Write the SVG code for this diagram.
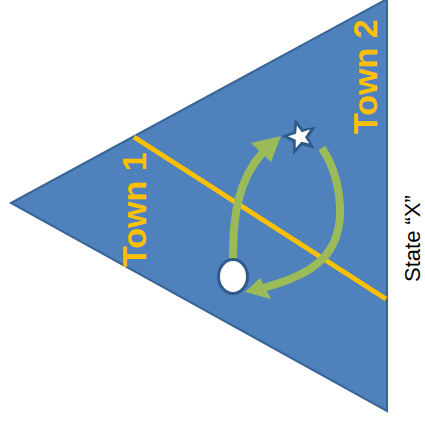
<svg xmlns="http://www.w3.org/2000/svg" width="425" height="421" viewBox="0 0 425 421">
<style>
.town{font-family:"Liberation Sans",Arial,sans-serif;font-weight:bold;font-size:34px;fill:#FFC000}
.state{font-family:"Liberation Sans",Arial,sans-serif;font-size:22px;fill:#000}
.arc{fill:none;stroke:#9BBB59;stroke-width:8;stroke-linecap:butt}
.head{fill:#9BBB59}
</style>
<rect width="425" height="421" fill="#fff"/>
<g id="state">
<polygon points="11,203 387,-1 387,411" fill="#4F81BD" stroke="#3A6597" stroke-width="2"/>
</g>
<g id="border">
<line x1="134" y1="137" x2="386" y2="299" stroke="#FFC000" stroke-width="5"/>
</g>
<g id="town1"><text class="town" transform="translate(146,267) rotate(-90)">Town 1</text></g>
<g id="town2"><text class="town" transform="translate(377,134) rotate(-90)">Town 2</text></g>
<g id="label"><text class="state" transform="translate(420,282) rotate(-90)">State “X”</text></g>
<g id="connectors">
<path class="arc" d="M233,259 C233,215 238,180 263,152"/>
<polygon class="head" points="281,136 251,143 271,162"/>
<path class="arc" d="M322,148 C340,175 345,215 335,240 C325,265 300,278 263,288"/>
<polygon class="head" points="245,292 260,278 271,299"/>
</g>
<g id="home">
<ellipse cx="233" cy="276.5" rx="14.5" ry="17" fill="#fff" stroke="#2F5A8C" stroke-width="3"/>
</g>
<g id="destination">
<path d="M295.08,118.65 L303.05,129.06 L315.94,126.65 L308.49,137.44 L314.76,148.96 L302.2,145.21 L293.19,154.74 L292.87,141.63 L281.03,136.01 L293.39,131.65 Z" fill="#2F5A8C"/>
<path d="M296.89,125.41 L301.79,132.33 L310.06,129.46 L304.99,137.26 L309.33,143.55 L301.29,141.83 L295.7,148.2 L295.81,139.72 L288.02,136.37 L296.11,133.85 Z" fill="#fff"/>
</g>
</svg>
